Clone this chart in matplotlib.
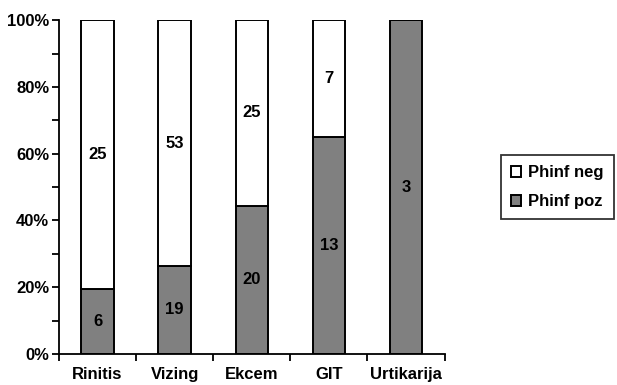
import numpy as np
import matplotlib.pyplot as plt
from matplotlib.ticker import MultipleLocator, FuncFormatter

plt.rcParams['font.family'] = ['Liberation Sans', 'DejaVu Sans']
plt.rcParams['font.weight'] = 'bold'

categories = ['Rinitis', 'Vizing', 'Ekcem', 'GIT', 'Urtikarija']
phinf_poz = [6, 19, 20, 13, 3]
phinf_neg = [25, 53, 25, 7, 0]

poz = np.array(phinf_poz, dtype=float)
neg = np.array(phinf_neg, dtype=float)
total = poz + neg
poz_pct = poz / total * 100
neg_pct = neg / total * 100

fig = plt.figure(figsize=(6.17, 3.85), dpi=100)
ax = fig.add_axes([0.0956, 0.0805, 0.625, 0.867])

x = np.arange(len(categories))
w = 0.42
b_poz = ax.bar(x, poz_pct, w, color='#808080', edgecolor='black', linewidth=1.4,
               label='Phinf poz', zorder=2)
b_neg = ax.bar(x, neg_pct, w, bottom=poz_pct, color='white', edgecolor='black',
               linewidth=1.4, label='Phinf neg', zorder=2)

fs = 12
for i in range(len(categories)):
    if poz[i] > 0:
        ax.text(x[i], poz_pct[i] / 2, f'{phinf_poz[i]}', ha='center', va='center',
                fontsize=fs, fontweight='bold')
    if neg[i] > 0:
        ax.text(x[i], poz_pct[i] + neg_pct[i] / 2, f'{phinf_neg[i]}', ha='center',
                va='center', fontsize=fs, fontweight='bold')

ax.set_xlim(-0.5, len(categories) - 0.5)
ax.set_ylim(0, 100)
ax.yaxis.set_major_locator(MultipleLocator(20))
ax.yaxis.set_minor_locator(MultipleLocator(10))
ax.yaxis.set_major_formatter(FuncFormatter(lambda v, p: f'{v:.0f}%'))
ax.set_xticks(x)
ax.set_xticklabels(categories, fontsize=fs, fontweight='bold')
ax.set_xticks(np.arange(len(categories) + 1) - 0.5, minor=True)
ax.tick_params(axis='x', which='major', length=0, pad=9)
ax.tick_params(axis='x', which='minor', direction='out', length=5, width=1.3)
ax.tick_params(axis='y', which='both', direction='out', length=5, width=1.3,
               labelsize=fs, pad=2)
for lbl in ax.get_yticklabels():
    lbl.set_fontweight('bold')

for side in ['top', 'right']:
    ax.spines[side].set_visible(False)
for side in ['left', 'bottom']:
    ax.spines[side].set_linewidth(1.3)

leg = ax.legend(handles=[b_neg, b_poz], loc='center left',
                bbox_to_anchor=(1.145, 0.5), frameon=True, fancybox=False,
                edgecolor='black', fontsize=fs, handlelength=0.65,
                handleheight=0.65, handletextpad=0.4, borderpad=0.6,
                labelspacing=0.85, borderaxespad=0)
leg.get_frame().set_linewidth(1.3)
for t in leg.get_texts():
    t.set_fontweight('bold')

fig.savefig('out.png', dpi=100)
